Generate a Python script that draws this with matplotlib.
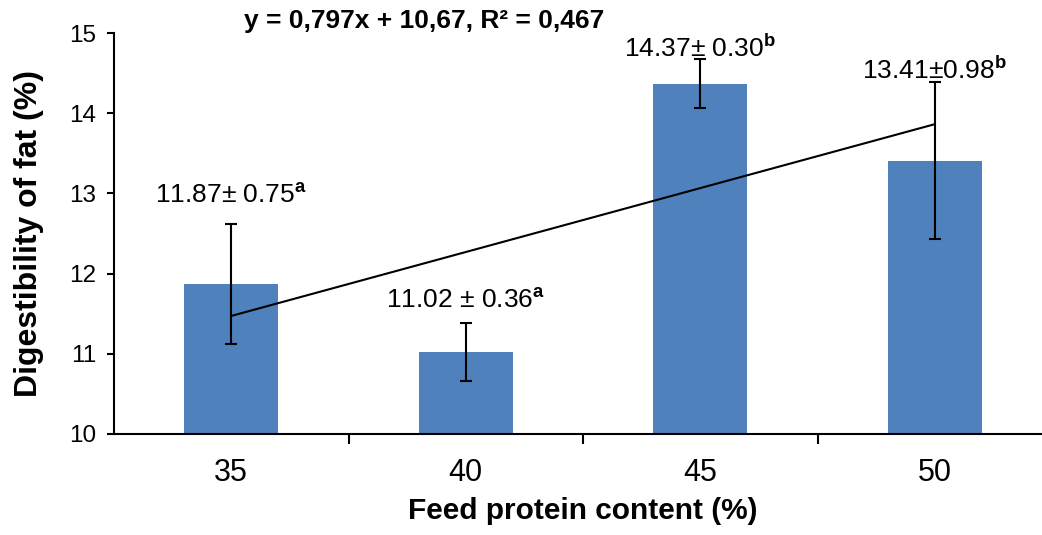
import numpy as np
import matplotlib
matplotlib.use("Agg")
import matplotlib.pyplot as plt

plt.rcParams['font.family'] = ['Liberation Sans', 'DejaVu Sans']
plt.rcParams['mathtext.fontset'] = 'custom'
plt.rcParams['mathtext.rm'] = 'Liberation Sans'
plt.rcParams['mathtext.bf'] = 'Liberation Sans:bold'

# data
protein = ['35', '40', '45', '50']
digest = [11.87, 11.02, 14.37, 13.41]
sd = [0.75, 0.36, 0.30, 0.98]
letters = ['a', 'a', 'b', 'b']
label_txt = ['11.87\u00b1 0.75', '11.02 \u00b1 0.36', '14.37\u00b1 0.30', '13.41\u00b10.98']

# layout for value labels (data units)
label_y = [12.97, 11.67, 14.81, 14.54]

fig = plt.figure(figsize=(10.42, 5.35), dpi=100)
# axes extends past right edge like the original crop
ax = fig.add_axes([114 / 1042, 1 - 434 / 535, 938 / 1042, 401 / 535])

x = np.arange(len(protein))
ax.bar(x, [d - 10 for d in digest], bottom=10, width=0.4, color='#4f81bd', zorder=2)
ax.errorbar(x, digest, yerr=sd, fmt='none', ecolor='black', elinewidth=1.5,
            capsize=4.3, capthick=1.5, zorder=4)

# linear trendline (Excel style, x = 1..4)
xs = np.arange(1, len(digest) + 1)
slope, icpt = np.polyfit(xs, digest, 1)
ax.plot(x, slope * xs + icpt, color='black', lw=1.5, zorder=3)

for i in range(len(digest)):
    ax.text(x[i], label_y[i], label_txt[i] + r'$^{\mathbf{' + letters[i] + '}}$',
            ha='center', va='center', fontsize=19)

ss_res = np.sum((np.array(digest) - (slope * xs + icpt)) ** 2)
ss_tot = np.sum((np.array(digest) - np.mean(digest)) ** 2)
r2 = 1 - ss_res / ss_tot
eq = 'y = {:.3f}x + {:.2f}, R\u00b2 = {:.3f}'.format(slope, icpt, r2).replace('.', ',')
fig.text(244 / 1042, 1 - 21 / 535, eq, fontsize=19, fontweight='bold', ha='left', va='center')

ax.set_xlim(-0.5, 3.5)
ax.set_ylim(10, 15)
ax.set_yticks([10, 11, 12, 13, 14, 15])
ax.tick_params(axis='y', labelsize=17.5, length=5, width=1.5, direction='out', pad=8)
ax.set_xticks(x)
ax.set_xticklabels(protein)
ax.tick_params(axis='x', which='major', labelsize=22, length=0, pad=17)
ax.set_xticks([0.5, 1.5, 2.5], minor=True)
ax.tick_params(axis='x', which='minor', length=7, width=1.5, direction='out')

for s in ['top', 'right']:
    ax.spines[s].set_visible(False)
for s in ['left', 'bottom']:
    ax.spines[s].set_linewidth(1.5)

ax.set_xlabel('Feed protein content (%)', fontsize=21.5, fontweight='bold', labelpad=7)
ax.set_ylabel('Digestibility of fat (%)', fontsize=23, fontweight='bold', labelpad=18)

fig.savefig('out.png', dpi=100)
